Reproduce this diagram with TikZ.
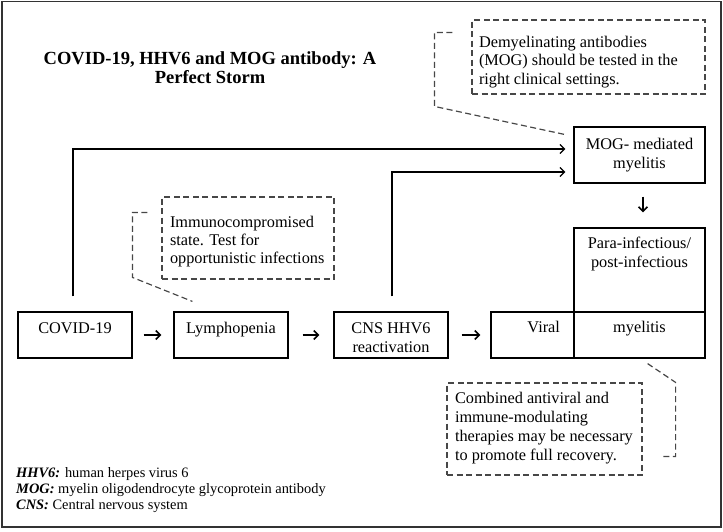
\documentclass[tikz,border=0pt]{standalone}
\usepackage{fontspec}
\setmainfont{Liberation Serif}
\usetikzlibrary{arrows.meta,calc}
\newcommand\mybox[5]{\parbox[c][#2][t]{#1}{\fontsize{16.3}{19}\selectfont#4\rule{0pt}{#3}#5\par}}
\tikzset{
  box/.style={draw, line width=1.2pt, inner sep=0pt, rectangle},
  callout/.style={draw=black!72, line width=1.2pt, dash pattern=on 6pt off 3.5pt, inner sep=0pt, rectangle},
  pointer/.style={draw=black!72, line width=1.2pt, dash pattern=on 6pt off 3.5pt},
  flow/.style={line width=1.3pt, -{Straight Barb[length=4.5pt,width=9pt,line width=1.3pt]}},
  shortflow/.style={line width=1.6pt, -{Straight Barb[length=4.5pt,width=9pt,line width=1.6pt]}},
}
\begin{document}
\begin{tikzpicture}[x=1pt,y=1pt]
\useasboundingbox (0,0) rectangle (723,-531);
\draw[line width=1.4pt, black!80] (2,-1.5) rectangle (721,-527);

\node[anchor=north, inner sep=0pt] (title) at (210,-44)
  {\parbox[t]{360pt}{\centering\fontsize{18.5}{19.5}\selectfont\bfseries\rule{0pt}{20pt}COVID-19, HHV6 and MOG antibody: A\\Perfect Storm}};

\node[box] (covid) at (75,-335) {\mybox{114pt}{46pt}{21pt}{\centering}{COVID-19}};
\node[box] (lymph) at (231,-335) {\mybox{114pt}{46pt}{21pt}{\centering}{Lymphopenia}};
\node[box] (cns) at (391,-335) {\mybox{114pt}{46pt}{21pt}{\centering}{CNS HHV6\\reactivation}};
\node[box] (viral) at (532.5,-335) {\mybox{83pt}{46pt}{20pt}{\raggedleft\rightskip=14pt}{Viral}};
\node[box] (myel) at (639.5,-335) {\mybox{131pt}{46pt}{20pt}{\centering}{myelitis}};
\node[box] (para) at (639.5,-270) {\mybox{131pt}{84pt}{20pt}{\centering}{Para-infectious/\\post-infectious}};
\node[box] (mog) at (639.5,-155) {\mybox{131pt}{56pt}{22pt}{\centering}{MOG- mediated\\myelitis}};

\node[callout] (topc) at (588.5,-57) {\mybox{233pt}{74pt}{27pt}{\raggedright\leftskip=7pt\fontsize{16.3}{18.5}\selectfont}{Demyelinating antibodies\\(MOG) should be tested in the\\right clinical settings.}};
\node[callout] (midc) at (248,-238) {\mybox{172pt}{82pt}{30pt}{\raggedright\leftskip=8pt\fontsize{16.3}{18}\selectfont}{Immunocompromised\\state. Test for\\opportunistic infections}};
\node[callout] (botc) at (544.5,-429) {\mybox{195pt}{92pt}{20pt}{\raggedright\leftskip=8pt\fontsize{16.3}{19}\selectfont}{Combined antiviral and\\immune-modulating\\therapies may be necessary\\to promote full recovery.}};

\draw[shortflow] ([xshift=11pt]covid.east) -- ([xshift=-12pt]lymph.west);
\draw[shortflow] ([xshift=14pt]lymph.east) -- ([xshift=-14pt]cns.west);
\draw[shortflow] ([xshift=13pt]cns.east) -- ([xshift=-10pt]viral.west);
\draw[flow] ([xshift=-2pt,yshift=15pt]covid.north) |- ([xshift=-8pt,yshift=6pt]mog.west);
\draw[flow] ([xshift=1pt,yshift=15pt]cns.north) |- ([xshift=-8pt,yshift=-17pt]mog.west);
\draw[shortflow] ([xshift=3.5pt,yshift=-13pt]mog.south) -- ([xshift=3.5pt,yshift=15pt]para.north);

\draw[pointer] ([xshift=-19pt,yshift=-13pt]topc.north west) -| ([xshift=-37pt,yshift=-87pt]topc.north west) -- ([xshift=-9pt,yshift=-8pt]mog.north west);
\draw[pointer] ([xshift=-14pt,yshift=-16pt]midc.north west) -| ([xshift=-29pt,yshift=-81pt]midc.north west) -- ([xshift=19pt,yshift=10pt]lymph.north west);
\draw[pointer] ([xshift=-58pt,yshift=-5pt]myel.south east) -- ([xshift=33pt]botc.north east) |- ([xshift=18pt,yshift=-74pt]botc.north east);

\node[anchor=north west, inner sep=0pt] (notes) at (16,-465)
  {\parbox[t]{420pt}{\fontsize{14.4}{16}\selectfont\rule{0pt}{12pt}\textbf{\textit{HHV6:}} human herpes virus 6\\\textbf{\textit{MOG:}} myelin oligodendrocyte glycoprotein antibody\\\textbf{\textit{CNS:}} Central nervous system}};
\end{tikzpicture}
\end{document}
